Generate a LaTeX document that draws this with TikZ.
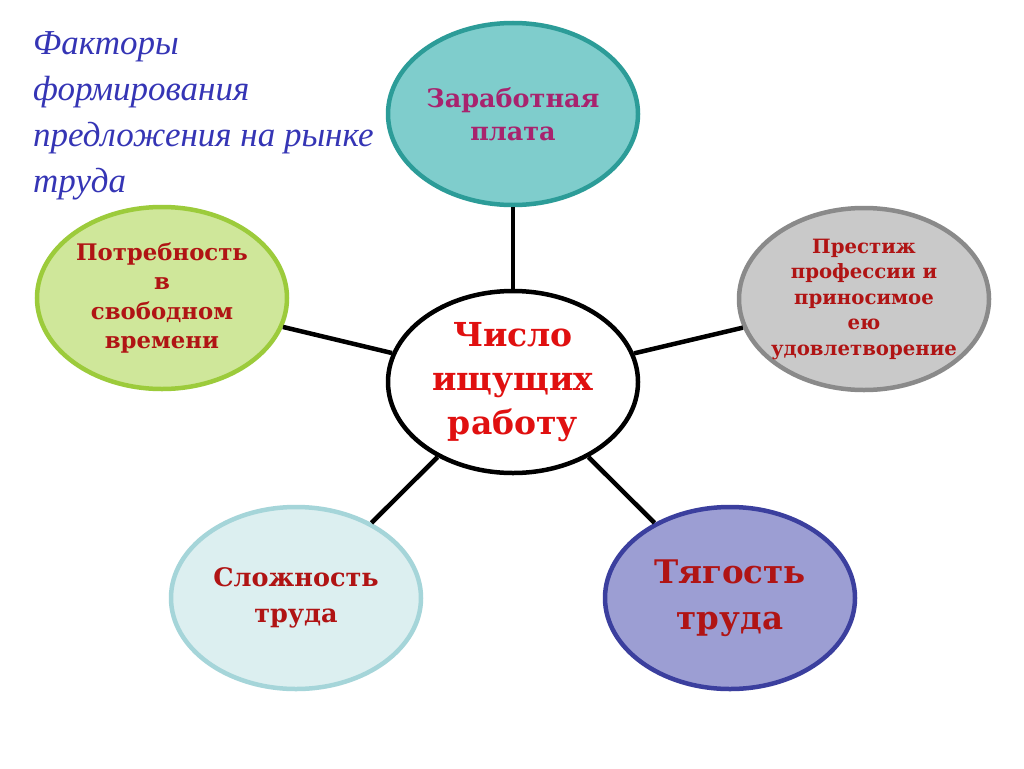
\documentclass[tikz,border=0pt]{standalone}
\usepackage{fontspec}
\usetikzlibrary{shapes.geometric}
\newfontfamily\titlefnt{Liberation Serif}
\newfontfamily\boxfnt{DejaVu Serif}
\definecolor{titleblue}{HTML}{3535B5}
\definecolor{darkred}{HTML}{B01414}
\definecolor{brightred}{HTML}{E01010}
\definecolor{magentatxt}{HTML}{A8236E}
\definecolor{tealfill}{HTML}{7FCDCC}
\definecolor{tealline}{HTML}{2C9C98}
\definecolor{greenfill}{HTML}{CFE79A}
\definecolor{greenline}{HTML}{9CCB3B}
\definecolor{greyfill}{HTML}{C9C9C9}
\definecolor{greyline}{HTML}{8A8A8A}
\definecolor{paleFill}{HTML}{DCEFF0}
\definecolor{paleLine}{HTML}{A5D5D9}
\definecolor{violetFill}{HTML}{9C9ED3}
\definecolor{violetLine}{HTML}{3B3F9E}
\tikzset{
  oval/.style={ellipse, line width=4.5pt, minimum width=250pt, minimum height=182pt, inner sep=0pt, align=center},
  link/.style={line width=4.5pt, black},
}
\begin{document}
\begin{tikzpicture}[x=1pt,y=-1pt]
\useasboundingbox[fill=white] (0,0) rectangle (1024,768);
\node[oval, draw=black, fill=white, text=brightred,
  font=\boxfnt\bfseries\fontsize{33}{44}\selectfont] (c) at (513,382) {Число\\ищущих\\работу};
\node[oval, draw=tealline, fill=tealfill, text=magentatxt,
  font=\boxfnt\bfseries\fontsize{25.5}{33}\selectfont] (t) at (513,114) {Заработная\\плата};
\node[oval, draw=greenline, fill=greenfill, text=darkred,
  font=\boxfnt\bfseries\fontsize{22.8}{29.5}\selectfont] (l) at (162,298) {Потребность\\в\\свободном\\времени};
\node[oval, draw=greyline, fill=greyfill, text=darkred,
  font=\boxfnt\bfseries\fontsize{19.7}{25.5}\selectfont] (r) at (864,299)
  {\makebox[0pt]{\begin{tabular}{@{}c@{}}Престиж\\профессии и\\приносимое\\ею\\удовлетворение\end{tabular}}};
\node[oval, draw=paleLine, fill=paleFill, text=darkred,
  font=\boxfnt\bfseries\fontsize{25.5}{36}\selectfont] (bl) at (296,598) {Сложность\\труда};
\node[oval, draw=violetLine, fill=violetFill, text=darkred,
  font=\boxfnt\bfseries\fontsize{32.5}{46}\selectfont] (br) at (730,598) {Тягость\\труда};
\draw[link] (c) -- (t);
\draw[link] (c) -- (l);
\draw[link] (c) -- (r);
\draw[link] (c) -- (bl);
\draw[link] (c) -- (br);
\node[anchor=base west, align=left, inner sep=0pt, text=titleblue,
  font=\titlefnt\itshape\fontsize{35}{46}\selectfont] (title) at (33,192)
  {Факторы\\формирования\\предложения на рынке\\труда};
\end{tikzpicture}
\end{document}
